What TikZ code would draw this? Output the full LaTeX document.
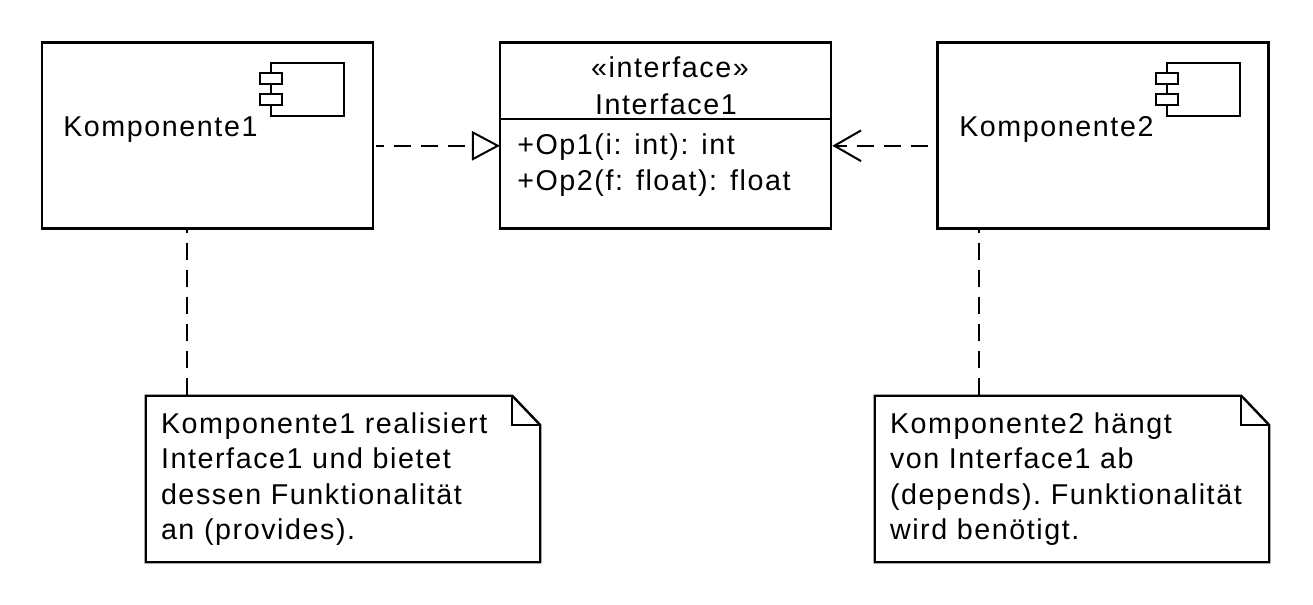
\documentclass[tikz,border=0pt]{standalone}
\usepackage{fontspec}
\setmainfont[LetterSpace=5.5]{Liberation Sans}
\usepackage{tikz}
\usetikzlibrary{arrows.meta}

\tikzset{
  x=0.75pt,y=-0.75pt,
  every node/.style={font=\fontsize{21.5pt}{26.6pt}\selectfont,inner sep=0pt},
  thing/.style={draw,line width=1.8pt,minimum width=248.5pt,minimum height=139.5pt},
  notebox/.style={minimum width=295.5pt,minimum height=124.5pt,text width=273pt,align=left},
  plug/.style={draw,line width=1.5pt,fill=white,minimum width=16pt,minimum height=8pt},
  txt/.style={anchor=base west},
  opline/.style={txt,execute at begin node={\spaceskip=0.45em\relax}},
  link/.style={line width=1.5pt,dash pattern=on 12.75pt off 7.5pt}
}

\begin{document}
\frenchspacing
\begin{tikzpicture}
        \useasboundingbox (0,0) rectangle (1313,605);
        % boxes
        \node[thing] (comp1) at (207.5,135.5) {};
        \node[thing] (iface) at (665.5,135.5) {};
        \node[thing] (comp2) at (1103,135.5) {};
        \draw[line width=1.5pt] (iface.west |- 0,119) coordinate (divl) -- (divl -| iface.east);
        % component icons
        \foreach \name/\off in {comp1/0,comp2/896} {
          \draw[line width=1.5pt] (271+\off,63) rectangle (344+\off,116);
          \node[plug] (\name top) at (271+\off,78.5) {};
          \node[plug] (\name bot) at (271+\off,99.5) {};
        }
        \node[txt] (comp1name) at (63,137) {Komponente1};
        \node[txt] (comp2name) at (959,137) {Komponente2};
        % interface text
        \node[anchor=base] (stereo) at (670,78) {«interface»};
        \node[anchor=base] (ifacename) at (666,115) {Interface1};
        \node[opline] (op1) at (517,155) {+Op1(i: int): int};
        \node[opline] (op2) at (517,191) {+Op2(f: float): float};
        % notes
        \node[notebox] (note1) at (343,479) {Komponente1 realisiert\\Interface1 und bietet\\dessen Funktionalität\\an (provides).};
        \node[notebox] (note2) at (1072,479) {Komponente2 hängt\\von Interface1 ab\\(depends). Funktionalität\\wird benötigt.};
        \foreach \n in {note1,note2} {
          \draw[line width=1.8pt,line join=miter] (\n.north west) -- ([xshift=-21pt]\n.north east)
            -- ([yshift=-22pt]\n.north east) -- (\n.south east) -- (\n.south west) -- cycle;
          \draw[line width=1.5pt] ([xshift=-21pt]\n.north east) |- ([yshift=-22pt]\n.north east);
        }
        % connectors
        \draw[link,dash phase=6.75pt,-{Triangle[open,length=21pt,width=22pt,line width=1.5pt]}] ([xshift=1.5pt,yshift=-7.7pt]comp1.east) -- ([xshift=1pt,yshift=-7.7pt]iface.west);
        \draw[link,-{Straight Barb[length=20pt,width=23pt,line width=1.5pt]}] ([xshift=-6pt,yshift=-7.7pt]comp2.west) -- ([yshift=-7.7pt]iface.east);
        \draw[link,dash phase=10.5pt] (comp1.south -| note1.north west) ++(41,0) coordinate (a1) -- (a1 |- note1.north);
        \draw[link,dash phase=10.5pt] (comp2.south -| note2.north west) ++(104,0) coordinate (a2) -- (a2 |- note2.north);
      \end{tikzpicture}
\end{document}
